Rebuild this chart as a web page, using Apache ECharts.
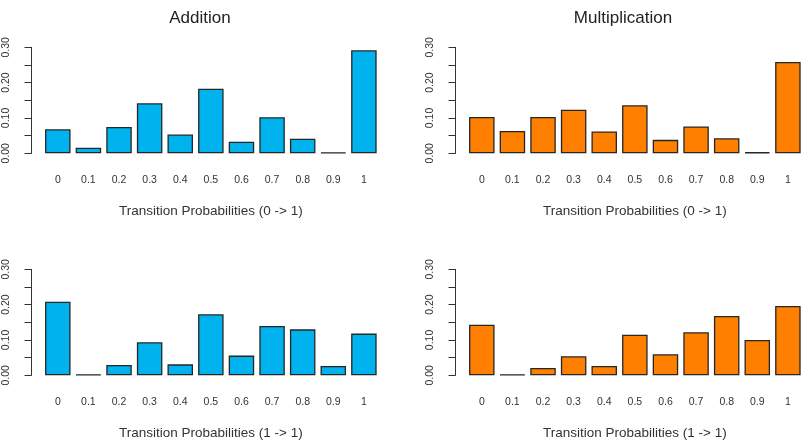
<!DOCTYPE html>
<html>
<head>
<meta charset="utf-8">
<script src="https://cdn.jsdelivr.net/npm/echarts@6/dist/echarts.min.js"></script>
<style>
  html, body { margin: 0; padding: 0; background: #fff; }
  #chart { width: 807px; height: 446px; }
</style>
</head>
<body>
<div id="chart"></div>
<script>
// categories (bar names)
const categories = ['0', '0.1', '0.2', '0.3', '0.4', '0.5', '0.6', '0.7', '0.8', '0.9', '1'];

// Addition, 0 -> 1
const addition01 = [0.068, 0.016, 0.0745, 0.1415, 0.053, 0.183, 0.033, 0.102, 0.0415, 0.002, 0.2915];
// Multiplication, 0 -> 1
const multiplication01 = [0.103, 0.063, 0.103, 0.1236, 0.062, 0.136, 0.038, 0.076, 0.0425, 0.003, 0.2585];
// Addition, 1 -> 1
const addition11 = [0.2085, 0.002, 0.029, 0.0934, 0.031, 0.1726, 0.0557, 0.1396, 0.130, 0.0264, 0.118];
// Multiplication, 1 -> 1
const multiplication11 = [0.1434, 0.002, 0.0208, 0.0538, 0.0264, 0.115, 0.0594, 0.1217, 0.168, 0.100, 0.196];

const titles = ['Addition', 'Multiplication'];
const xNames = ['Transition Probabilities (0 -> 1)', 'Transition Probabilities (1 -> 1)'];

const FONT = '"Liberation Sans", Arial, Helvetica, sans-serif';
const BLUE = '#00b2ee';
const ORANGE = '#ff8000';

const panels = [
  { data: addition01, color: BLUE, left: 42.5, top: 47.3, xName: xNames[0] },
  { data: multiplication01, color: ORANGE, left: 466.5, top: 47.3, xName: xNames[0] },
  { data: addition11, color: BLUE, left: 42.5, top: 269.3, xName: xNames[1] },
  { data: multiplication11, color: ORANGE, left: 466.5, top: 269.3, xName: xNames[1] }
];

const chart = echarts.init(document.getElementById('chart'));

const option = {
  backgroundColor: '#fff',
  animation: false,
  title: [
    { text: titles[0], left: 195, top: 5, textAlign: 'center',
      textStyle: { fontFamily: FONT, fontSize: 17, fontWeight: 'normal', color: '#222' } },
    { text: titles[1], left: 618, top: 5, textAlign: 'center',
      textStyle: { fontFamily: FONT, fontSize: 17, fontWeight: 'normal', color: '#222' } }
  ],
  grid: panels.map(p => ({ left: p.left, top: p.top, width: 336.7, height: 106 })),
  xAxis: panels.map((p, i) => ({
    type: 'category',
    gridIndex: i,
    data: categories,
    axisLine: { show: false },
    axisTick: { show: false },
    axisLabel: { margin: 21, fontSize: 10.5, fontFamily: FONT, color: '#333', interval: 0 },
    name: p.xName,
    nameLocation: 'middle',
    nameGap: 51,
    nameTextStyle: { fontFamily: FONT, fontSize: 13.5, color: '#333' }
  })),
  yAxis: panels.map((p, i) => ({
    type: 'value',
    gridIndex: i,
    min: 0,
    max: 0.3,
    interval: 0.05,
    offset: 11,
    axisLine: { show: true, lineStyle: { color: '#333', width: 1 } },
    axisTick: { show: true, length: 7, lineStyle: { color: '#333', width: 1 } },
    splitLine: { show: false },
    axisLabel: {
      rotate: 90,
      margin: 20,
      fontSize: 10.5,
      fontFamily: FONT,
      color: '#333',
      formatter: v => (Math.round(v * 100) % 10 === 0 ? v.toFixed(2) : '')
    }
  })),
  series: panels.map((p, i) => ({
    type: 'bar',
    xAxisIndex: i,
    yAxisIndex: i,
    data: p.data,
    barCategoryGap: '16.67%',
    itemStyle: { color: p.color, borderColor: '#262626', borderWidth: 1.3 }
  }))
};

chart.setOption(option);
</script>
</body>
</html>
